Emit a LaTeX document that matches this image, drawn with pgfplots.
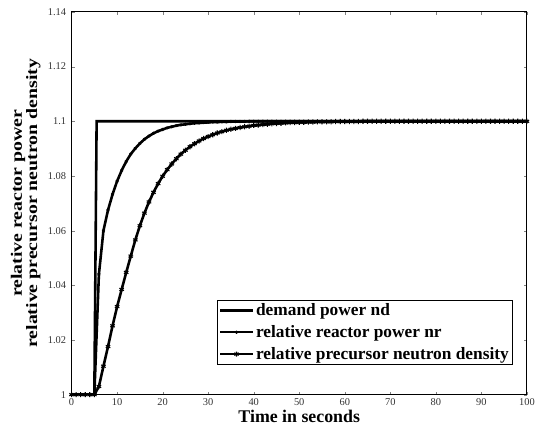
\documentclass[border=0pt]{standalone}
\usepackage{fontspec}
\setmainfont{Liberation Serif}
\usepackage{graphicx}
\usepackage{pgfplots}
\pgfplotsset{compat=1.18}

\pgfplotstableread{
t nd
0 1
5 1
5.5 1.1
100 1.1
}\demand

\pgfplotstableread{
t nr nc
0 1 1
1 1 1
2 1 1
3 1 1
4 1 1
5 1 1
6 1.0440 1.0030
7 1.0600 1.0104
8 1.0675 1.0176
9 1.0733 1.0252
10 1.0781 1.0322
11 1.0820 1.0385
12 1.0853 1.0447
13 1.0880 1.0507
14 1.0901 1.0566
15 1.0919 1.0618
16 1.0934 1.0664
17 1.0946 1.0705
18 1.0956 1.0740
19 1.0964 1.0772
20 1.0970 1.0799
21 1.0976 1.0823
22 1.0980 1.0844
23 1.0984 1.0863
24 1.0987 1.0880
25 1.0989 1.0894
26 1.0991 1.0907
27 1.0993 1.0918
28 1.0994 1.0928
29 1.0995 1.0937
30 1.0996 1.0944
31 1.0997 1.0951
32 1.0997 1.0957
33 1.0998 1.0962
34 1.0998 1.0967
35 1.0999 1.0971
36 1.0999 1.0974
37 1.0999 1.0977
38 1.0999 1.0980
39 1.1000 1.0982
40 1.1000 1.0985
41 1.1000 1.0986
42 1.1000 1.0988
43 1.1000 1.0989
44 1.1000 1.0991
45 1.1000 1.0992
46 1.1000 1.0993
47 1.1000 1.0994
48 1.1000 1.0995
49 1.1000 1.0995
50 1.1000 1.0996
51 1.1000 1.0996
52 1.1000 1.0997
53 1.1000 1.0997
54 1.1000 1.0998
55 1.1000 1.0998
56 1.1000 1.0998
57 1.1000 1.0998
58 1.1000 1.0999
59 1.1000 1.0999
60 1.1000 1.0999
61 1.1000 1.0999
62 1.1000 1.0999
63 1.1000 1.0999
64 1.1000 1.1000
65 1.1000 1.1000
66 1.1000 1.1000
67 1.1000 1.1000
68 1.1000 1.1000
69 1.1000 1.1000
70 1.1000 1.1000
71 1.1000 1.1000
72 1.1000 1.1000
73 1.1000 1.1000
74 1.1000 1.1000
75 1.1000 1.1000
76 1.1000 1.1000
77 1.1000 1.1000
78 1.1000 1.1000
79 1.1000 1.1000
80 1.1000 1.1000
81 1.1000 1.1000
82 1.1000 1.1000
83 1.1000 1.1000
84 1.1000 1.1000
85 1.1000 1.1000
86 1.1000 1.1000
87 1.1000 1.1000
88 1.1000 1.1000
89 1.1000 1.1000
90 1.1000 1.1000
91 1.1000 1.1000
92 1.1000 1.1000
93 1.1000 1.1000
94 1.1000 1.1000
95 1.1000 1.1000
96 1.1000 1.1000
97 1.1000 1.1000
98 1.1000 1.1000
99 1.1000 1.1000
100 1.1000 1.1000
}\response

\begin{document}
\begin{tikzpicture}
\begin{axis}[
    name=ax,
    scale only axis,
    width=458bp, height=385bp,
    xmin=0, xmax=100,
    ymin=1, ymax=1.14,
    xtick={0,10,...,100},
    ytick={1,1.02,1.04,1.06,1.08,1.1,1.12,1.14},
    yticklabel style={/pgf/number format/fixed, /pgf/number format/precision=2, xshift=-2bp},
    /pgf/number format/assume math mode=true,
    tick label style={font=\fontsize{10.5}{12}\selectfont, text=black!80},
    tick align=inside,
    major tick length=3bp,
    axis line style={line width=1pt},
    xlabel={\textbf{Time in seconds}},
    ylabel={\scalebox{1}[0.8]{\bfseries\begin{tabular}{@{}c@{}}relative reactor power\\relative precursor neutron density\end{tabular}}},
    ylabel style={at={(axis description cs:-0.066,0.5)}, anchor=south,
        inner sep=0pt, font=\fontsize{20}{18}\selectfont},
    xlabel style={at={(axis description cs:0.5,0)}, anchor=base, yshift=-27.5bp,
        inner sep=0pt, font=\fontsize{18}{20}\selectfont},
    legend style={at={(0.969,0.078)}, anchor=south east, draw=black, line width=1pt,
        font=\fontsize{17.5}{20}\selectfont\bfseries, inner sep=1.5pt, row sep=4.5pt},
    legend cell align=left,
    legend image code/.code={%
        \draw[#1, mark=none, line width=2.6pt] (0cm,0cm) -- (1.16cm,0cm);
        \draw[#1] plot coordinates {(0.58cm,0cm)};},
]
\addplot[black, line width=2.6pt] table[x=t, y=nd] {\demand};
\addlegendentry{demand power nd}
\addplot[black, line width=2.6pt, mark=asterisk, mark size=1.6pt, mark options={line width=0.9pt}] table[x=t, y=nr] {\response};
\addlegendentry{relative reactor power nr}
\addplot[black, line width=2.6pt, mark=asterisk, mark size=2.6pt, mark options={line width=1.1pt}] table[x=t, y=nc] {\response};
\addlegendentry{relative precursor neutron density}
\end{axis}
\path (ax.south west) ++(-72bp,-37bp) coordinate (bl);
\path (ax.north east) ++(8bp,12bp) coordinate (tr);
\path[use as bounding box] (bl) rectangle (tr);
\end{tikzpicture}
\end{document}
